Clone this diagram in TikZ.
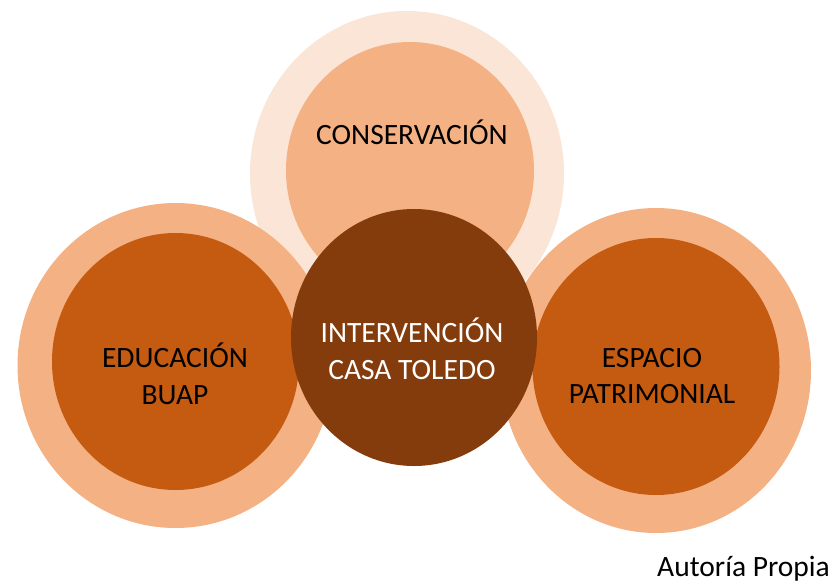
\documentclass[tikz,border=0pt]{standalone}
\usepackage{fontspec}
\setmainfont{Carlito}
\definecolor{paleorange}{HTML}{FBE5D6}
\definecolor{lightorange}{HTML}{F4B183}
\definecolor{midorange}{HTML}{C55A11}
\definecolor{darkbrown}{HTML}{843C0C}
\tikzset{
  outerring/.style={fill=lightorange},
  innerdisc/.style={fill=midorange},
  label/.style={align=center, font=\fontsize{29.5}{36.5}\selectfont},
}
\begin{document}
\begin{tikzpicture}[x=1pt, y=-1pt]
    \useasboundingbox (0, 0) rectangle (832, 584);
    % top circle
    \fill[paleorange] (407, 173.5) ellipse [x radius=157pt, y radius=162.5pt];
    \fill[lightorange] (410, 170.5) ellipse [x radius=124pt, y radius=128.5pt];
    % left circle
    \fill[outerring] (175.5, 365.5) ellipse [x radius=158pt, y radius=162.5pt];
    \fill[innerdisc] (175.5, 361.5) ellipse [x radius=123.5pt, y radius=128.5pt];
    % right circle
    \fill[outerring] (656, 370.5) ellipse [x radius=155pt, y radius=162.5pt];
    \fill[innerdisc] (656, 366.5) ellipse [x radius=123.5pt, y radius=128.5pt];
    % centre circle
    \fill[darkbrown] (414, 337.5) ellipse [x radius=123pt, y radius=128.5pt];
    % texts
    \node[label, anchor=base] (conservacion) at (412, 144) {CONSERVACIÓN};
    \node[label] (educacion) at (175, 374) {EDUCACIÓN\\BUAP};
    \node[label] (espacio) at (652, 376) {ESPACIO\\PATRIMONIAL};
    \node[label, text=white] (intervencion) at (412, 349) {INTERVENCIÓN\\CASA TOLEDO};
    \node[label, anchor=base east, inner sep=0pt] (autoria) at (830, 576) {Autoría Propia};
\end{tikzpicture}
\end{document}
